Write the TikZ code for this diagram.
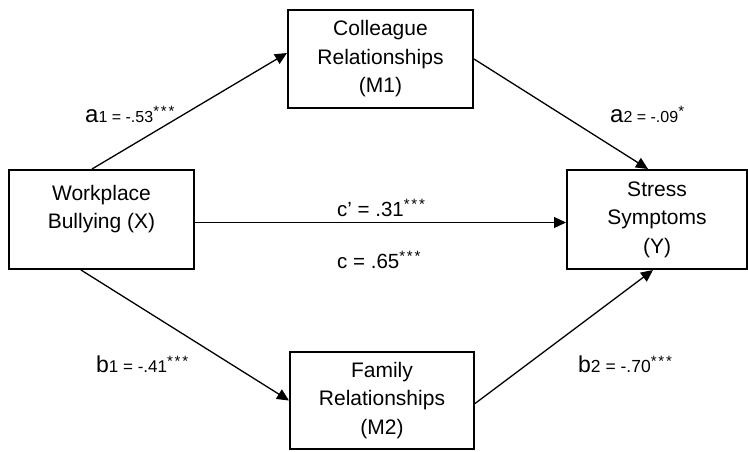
\documentclass[tikz,border=0pt]{standalone}
\usepackage{fontspec}
\setmainfont{Liberation Sans}
\usetikzlibrary{arrows.meta}
\newcommand\sigstars[1]{\raisebox{0.33em}{\fontsize{15}{15}\selectfont\addfontfeature{LetterSpace=12}#1}}
\begin{document}
\begin{tikzpicture}[x=1pt,y=-1pt,
  box/.style={draw, line width=2pt, inner sep=0pt, align=center, font=\fontsize{21}{28.5}\selectfont},
  conn/.style={line width=1.3pt, -{Triangle[length=12pt,width=11pt]}},
  lab/.style={inner sep=0pt, anchor=base west}]
\useasboundingbox (0,0) rectangle (748,451);
\node[box, minimum width=185pt, minimum height=99pt] (X) at (101.5,219.5) {Workplace\\Bullying (X)\\[-12pt]\strut};
\node[box, minimum width=185pt, minimum height=98pt] (M1) at (380.5,59) {Colleague\\Relationships\\(M1)};
\node[box, minimum width=180pt, minimum height=99pt] (Y) at (657,219.5) {Stress\\Symptoms\\(Y)};
\node[box, minimum width=184pt, minimum height=97pt] (M2) at (382,400.5) {Family\\Relationships\\(M2)};
\draw[conn] ([xshift=-9.5pt]X.north) -- ([yshift=6pt]M1.west);
\draw[conn] (M1.east) -- ([xshift=-9pt]Y.north);
\draw[conn] ([yshift=-3pt]X.east) -- ([yshift=-3pt]Y.west);
\draw[conn] ([xshift=-20.5pt]X.south) -- (M2.west);
\draw[conn] ([yshift=-3pt]M2.east) -- ([xshift=-4pt]Y.south);
\node[lab] (la1) at (85,122) {\fontsize{24}{24}\selectfont a\fontsize{16}{16}\selectfont 1 = -.53\sigstars{***}};
\node[lab] (la2) at (610,122) {\fontsize{24}{24}\selectfont a\fontsize{16}{16}\selectfont 2 = -.09\sigstars{*}};
\node[lab] (lc1) at (337,216) {\fontsize{20.5}{20}\selectfont c’ = .31\sigstars{***}};
\node[lab] (lc) at (337,268) {\fontsize{20.5}{20}\selectfont c = .65\sigstars{***}};
\node[lab] (lb1) at (96,372) {\fontsize{23}{23}\selectfont b\fontsize{17}{17}\selectfont 1 = -.41\sigstars{***}};
\node[lab] (lb2) at (578,372) {\fontsize{23}{23}\selectfont b\fontsize{17.5}{17}\selectfont 2 = -.70\sigstars{***}};
\end{tikzpicture}
\end{document}
